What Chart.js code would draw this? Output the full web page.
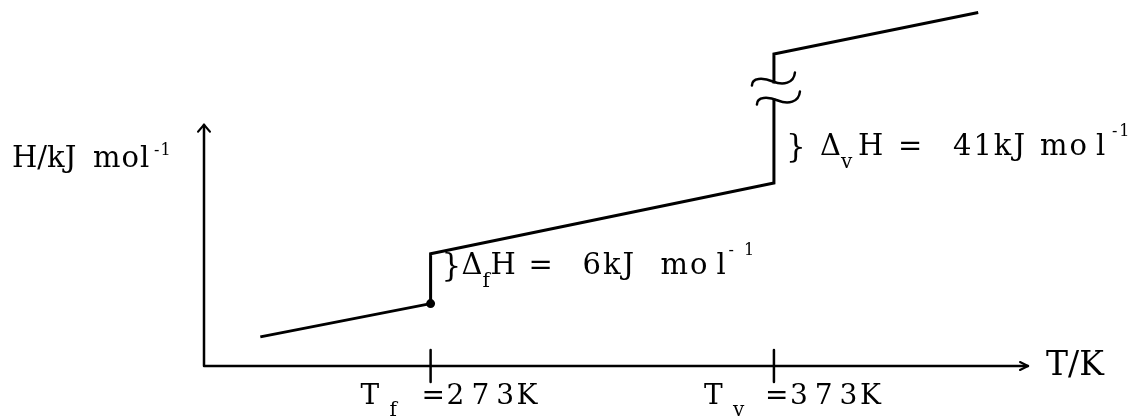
<!DOCTYPE html>
<html>
<head>
<meta charset="utf-8">
<script src="https://cdn.jsdelivr.net/npm/chart.js@4.4.1/dist/chart.umd.min.js"></script>
<style>
  html, body { margin: 0; padding: 0; background: #fff; }
  canvas { display: block; }
</style>
</head>
<body>
<canvas id="chart" width="1147" height="416"></canvas>
<script>
// heating curve of water, T in K and H in kJ/mol
const tempK = [223.4, 273, 273, 373, 373, 432.5];
const enthalpy = [3.5, 7.5, 13.5, 22, 63, 68];
const transitionTemps = [273, 373];
const transitionNames = ['f', 'v'];
const tempRange = [207, 447];
const enthalpyRange = [0, 44];
const yAxisTop = 29;
// the vertical jump at Tv is broken: above breakAt, breakGap kJ are left out
const breakAt = 33;
const breakGap = 25.5;

const plotH = h => (h > breakAt ? h - breakGap : h);
const dHfus = enthalpy[2] - enthalpy[1];
const dHvap = enthalpy[4] - enthalpy[3];

const FONT = '"DejaVu Serif", "Liberation Serif", serif';

function txt(ctx, s, x, y, size, spacing) {
  ctx.font = size + 'px ' + FONT;
  ctx.letterSpacing = (spacing || 0) + 'px';
  ctx.fillText(s, x, y);
}

function tilde(ctx, cx, cy) {
  ctx.beginPath();
  ctx.moveTo(cx - 21, cy + 4);
  ctx.bezierCurveTo(cx - 21, cy - 4, cx - 10, cy - 4, cx, cy);
  ctx.bezierCurveTo(cx + 10, cy + 4, cx + 21, cy + 2, cx + 22, cy - 9);
  ctx.stroke();
}

// "}ΔH = n kJ mol-1" next to a vertical step
function stepLabel(ctx, x, b, sub, value, o) {
  txt(ctx, '}', x + o[0], b + 2, 31);
  txt(ctx, '\u0394', x + o[1], b, 29);
  txt(ctx, sub, x + o[1] + 21, b + 13, 20);
  txt(ctx, 'H', x + o[2], b, 29);
  txt(ctx, '=', x + o[3], b, 29);
  txt(ctx, value + 'kJ', x + o[4], b, 29, 2);
  txt(ctx, 'mo', x + o[5], b, 29, 2);
  txt(ctx, 'l', x + o[5] + 56, b, 29);
  txt(ctx, '-1', x + o[6], b - 19, 16, o[7]);
}

const drawing = {
  id: 'drawing',
  afterDatasetsDraw(chart) {
    const ctx = chart.ctx;
    const xs = chart.scales.x, ys = chart.scales.y;
    const x0 = xs.getPixelForValue(tempRange[0]);
    const x1 = xs.getPixelForValue(tempRange[1]);
    const y0 = ys.getPixelForValue(0);
    const yTop = ys.getPixelForValue(yAxisTop);
    ctx.save();
    ctx.strokeStyle = '#000';
    ctx.fillStyle = '#000';
    ctx.lineWidth = 2.5;
    ctx.lineCap = 'round';
    ctx.lineJoin = 'round';

    // axes with arrow heads
    ctx.beginPath();
    ctx.moveTo(x0, yTop);
    ctx.lineTo(x0, y0);
    ctx.lineTo(x1, y0);
    ctx.stroke();
    ctx.lineWidth = 2;
    ctx.beginPath();
    ctx.moveTo(x0 - 6, yTop + 7); ctx.lineTo(x0, yTop); ctx.lineTo(x0 + 6, yTop + 7);
    ctx.moveTo(x1 - 8, y0 - 4); ctx.lineTo(x1, y0); ctx.lineTo(x1 - 8, y0 + 4);
    ctx.stroke();

    // transition ticks and labels
    ctx.lineWidth = 2.5;
    transitionTemps.forEach((t, i) => {
      const x = xs.getPixelForValue(t);
      ctx.beginPath();
      ctx.moveTo(x, y0 - 16);
      ctx.lineTo(x, y0 + 16);
      ctx.stroke();
      const base = y0 + 38;
      txt(ctx, 'T', x - 70, base, 28);
      txt(ctx, transitionNames[i], x - 41, base + 12, 20);
      txt(ctx, '=', x - 9, base, 28);
      txt(ctx, String(t), x + 16, base, 28, 7);
      txt(ctx, 'K', x + 86, base, 28);
    });
    txt(ctx, 'T/K', x1 + 18, y0 + 9, 33);

    // y axis title
    txt(ctx, 'H/kJ', 12, yTop + 42, 29);
    txt(ctx, 'mol', 93, yTop + 42, 29, 1);
    txt(ctx, '-1', 154, yTop + 30, 16, 1);

    // axis break on the vaporisation step
    const xv = xs.getPixelForValue(transitionTemps[1]);
    const yb = ys.getPixelForValue(breakAt);
    ctx.fillStyle = '#fff';
    ctx.fillRect(xv - 4, yb - 8, 8, 15);
    ctx.fillStyle = '#000';
    tilde(ctx, xv - 1, yb - 10);
    tilde(ctx, xv + 4, yb + 9);

    // enthalpy of fusion and of vaporisation
    const xf = xs.getPixelForValue(transitionTemps[0]);
    stepLabel(ctx, xf, ys.getPixelForValue(plotH(enthalpy[2])) + 20, 'f', dHfus,
      [11, 31, 60, 98, 152, 230, 298, 10]);
    stepLabel(ctx, xv, ys.getPixelForValue(plotH(enthalpy[3])) - 28, 'v', dHvap,
      [12, 46, 84, 124, 179, 266, 338, 2]);
    ctx.restore();
  }
};

new Chart(document.getElementById('chart'), {
  type: 'scatter',
  data: {
    datasets: [{
      data: tempK.map((t, i) => ({ x: t, y: plotH(enthalpy[i]) })),
      showLine: true,
      borderColor: '#000',
      backgroundColor: '#000',
      borderWidth: 3,
      pointRadius: [0, 3, 0, 0, 0, 0],
      tension: 0,
      clip: false
    }]
  },
  options: {
    responsive: false,
    animation: false,
    layout: { padding: { left: 204, right: 119, top: 0, bottom: 50 } },
    plugins: { legend: { display: false }, tooltip: { enabled: false } },
    scales: {
      x: { type: 'linear', display: false, min: tempRange[0], max: tempRange[1] },
      y: { type: 'linear', display: false, min: enthalpyRange[0], max: enthalpyRange[1] }
    }
  },
  plugins: [drawing]
});
</script>
</body>
</html>
